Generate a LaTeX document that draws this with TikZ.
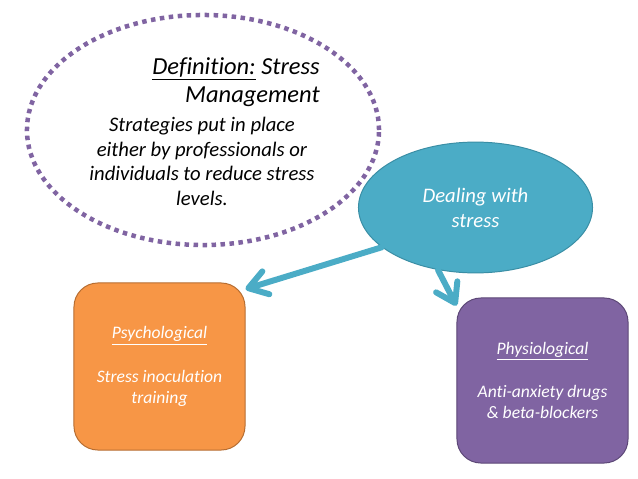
\documentclass[tikz,border=0pt]{standalone}
\usepackage{fontspec}
\setmainfont{Carlito}[Ligatures=NoCommon]
\usetikzlibrary{shapes.geometric, arrows.meta, positioning}
\definecolor{defpurple}{HTML}{8064A2}
\definecolor{tealfill}{HTML}{4BACC6}
\definecolor{tealline}{HTML}{3A8EA5}
\definecolor{orangefill}{HTML}{F79646}
\definecolor{orangeline}{HTML}{B66D31}
\definecolor{purpleline}{HTML}{5C4776}
\tikzset{
  defcloud/.style={
    ellipse, draw=defpurple, line width=3.2pt,
    dash pattern=on 3.2pt off 3.2pt,
    minimum width=8.8cm, minimum height=5.75cm, inner sep=0pt,
  },
  dealbubble/.style={
    ellipse, draw=tealline, fill=tealfill, line width=0.7pt,
    minimum width=5.85cm, minimum height=3.27cm, inner sep=0pt,
    align=center, text=white,
    font=\fontsize{14.7}{17.7}\selectfont\itshape,
  },
  card/.style={
    rectangle, rounded corners=17pt, line width=0.7pt,
    minimum width=4.275cm, inner sep=0pt,
    align=center, text=white,
    font=\fontsize{12.5}{14.9}\selectfont\itshape,
  },
  psychcard/.style={card, draw=orangeline, fill=orangefill, minimum height=4.175cm},
  physcard/.style={card, draw=purpleline, fill=defpurple, minimum height=4.125cm},
  headtext/.style={
    align=right, inner sep=0pt,
    font=\fontsize{17.4}{20.5}\selectfont\itshape,
  },
  bodytext/.style={
    align=center, inner sep=0pt,
    font=\fontsize{14.7}{17.4}\selectfont\itshape,
  },
  link/.style={
    -{Straight Barb[length=13pt, width=17pt, round]},
    line width=4.25pt, draw=tealfill, line cap=round,
  },
}
\begin{document}
\begin{tikzpicture}[x=0.025cm, y=-0.025cm]
  \useasboundingbox (0,0) rectangle (638,479);

  \node[defcloud]  (defn)  at (203,130) {};
  % base = last line of the text
  \node[headtext, anchor=base east] (defhead) at (320,103)
    {\underline{Definition:} Stress\\Management};
  \node[bodytext, anchor=base] (defbody) at (202,205)
    {Strategies put in place\\either by professionals or\\individuals to reduce stress\\levels.};

  \node[dealbubble] (deal)   at (475.5,207.5) {Dealing with\\stress};
  \node[psychcard]  (psych)  at (159.5,366.5)
    {\underline{Psychological}\\[16pt]Stress inoculation\\training};
  \node[physcard]   (physio) at (542.5,380.5)
    {\underline{Physiological}\\[16pt]Anti-anxiety drugs\\\& beta-blockers};

  \draw[link] (deal.203) -- (psych.42);
  \draw[link] (deal.239) -- (physio.139);

\end{tikzpicture}
\end{document}
